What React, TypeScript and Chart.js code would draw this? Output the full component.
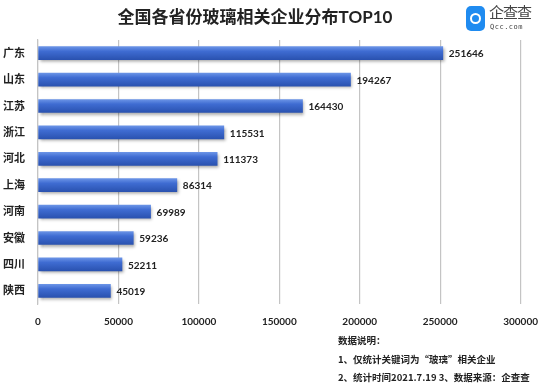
import React, { useEffect, useRef } from "react";
import { Chart, registerables } from "chart.js";

Chart.register(...registerables);

const categories = ["广东", "山东", "江苏", "浙江", "河北", "上海", "河南", "安徽", "四川", "陕西"];
const values = [251646, 194267, 164430, 115531, 111373, 86314, 69989, 59236, 52211, 45019];
const xTicks = [0, 50000, 100000, 150000, 200000, 250000, 300000];

const FONT = "'Lato', 'Noto Sans CJK SC', sans-serif";
const CJK = "'Noto Sans CJK SC', sans-serif";

const shadowPlugin = {
  id: "barShadow",
  beforeDatasetsDraw(chart: any) {
    const ctx = chart.ctx;
    ctx.save();
    ctx.shadowColor = "rgba(0,0,0,0.35)";
    ctx.shadowBlur = 3;
    ctx.shadowOffsetX = 1.5;
    ctx.shadowOffsetY = 2;
  },
  afterDatasetsDraw(chart: any) {
    chart.ctx.restore();
  },
};

const valueLabelPlugin = {
  id: "valueLabels",
  afterDraw(chart: any) {
    const ctx = chart.ctx;
    const meta = chart.getDatasetMeta(0);
    ctx.save();
    ctx.font = `bold 10px ${FONT}`;
    ctx.fillStyle = "#222";
    ctx.textAlign = "left";
    ctx.textBaseline = "middle";
    meta.data.forEach((bar: any, i: number) => {
      ctx.fillText(String(values[i]), bar.x + 6, bar.y + 1);
    });
    ctx.restore();
  },
};

export default function App() {
  const ref = useRef<HTMLCanvasElement>(null);
  useEffect(() => {
    if (!ref.current) return;
    const chart = new Chart(ref.current, {
      type: "bar",
      data: {
        labels: categories,
        datasets: [
          {
            data: values,
            barThickness: 13,
            backgroundColor: (c: any) => {
              const ch = c.chart;
              const ys = ch.scales?.y;
              if (!ys || !ch.chartArea) return "#3d69cf";
              const cy = ys.getPixelForValue(c.dataIndex);
              const g = ch.ctx.createLinearGradient(0, cy - 6.5, 0, cy + 6.5);
              g.addColorStop(0, "#6a93e6");
              g.addColorStop(0.35, "#3f6cd2");
              g.addColorStop(1, "#2a52b0");
              return g;
            },
            borderWidth: 0,
          },
        ],
      },
      options: {
        indexAxis: "y",
        animation: false,
        responsive: false,
        maintainAspectRatio: false,
        layout: { padding: { top: 40, right: 24, left: 0, bottom: 0 } },
        plugins: { legend: { display: false }, tooltip: { enabled: false }, title: { display: false } },
        scales: {
          x: {
            type: "linear",
            min: 0,
            max: 300000,
            afterFit: (s: any) => {
              s.height = 79;
            },
            grid: { display: true, color: "#c4c4c4", drawTicks: false, lineWidth: 1.2, drawOnChartArea: true },
            border: { display: false },
            ticks: {
              stepSize: 50000,
              padding: 12,
              color: "#222",
              font: { family: FONT, size: 10, weight: "bold" },
              maxRotation: 0,
              callback: (v: any) => (xTicks.includes(v) ? String(v) : ""),
            },
          },
          y: {
            afterFit: (s: any) => {
              s.width = 38;
            },
            grid: { display: false, drawTicks: false },
            border: { display: true, color: "#c4c4c4", width: 1.2 },
            ticks: {
              padding: 13,
              color: "#222",
              font: { family: FONT, size: 11, weight: "bold" },
            },
          },
        },
      },
      plugins: [shadowPlugin, valueLabelPlugin],
    } as any);
    return () => chart.destroy();
  }, []);

  const noteStyle: React.CSSProperties = {
    position: "absolute",
    left: 338,
    fontSize: 9.5,
    fontWeight: "bold",
    color: "#222",
    fontFamily: CJK,
    whiteSpace: "nowrap",
    lineHeight: "12px",
  };

  return (
    <div style={{ position: "fixed", left: 0, top: 0, width: 550, height: 383, background: "#fff", overflow: "hidden" }}>
      <canvas ref={ref} width={550} height={383} style={{ position: "absolute", left: 0, top: 0, width: 550, height: 383 }} />
      <div
        style={{
          position: "absolute",
          left: 0,
          width: 510,
          top: 6,
          textAlign: "center",
          fontSize: 17,
          fontWeight: "bold",
          color: "#222",
          fontFamily: FONT,
          lineHeight: "22px",
        }}
      >
        全国各省份玻璃相关企业分布TOP10
      </div>
      <div
        style={{
          position: "absolute",
          left: 466,
          top: 6,
          width: 19,
          height: 25,
          borderRadius: 5,
          background: "#1f8bf0",
          display: "flex",
          alignItems: "center",
          justifyContent: "center",
        }}
      >
        <div style={{ width: 11, height: 11, borderRadius: "50%", border: "2.5px solid #fff", boxSizing: "border-box" }} />
      </div>
      <div style={{ position: "absolute", left: 489, top: 3, fontSize: 15, color: "#444", fontFamily: CJK, lineHeight: "18px", letterSpacing: -1 }}>
        企查查
      </div>
      <div style={{ position: "absolute", left: 490, top: 22, fontSize: 7, color: "#444", fontFamily: "'DejaVu Sans Mono', monospace", lineHeight: "10px", letterSpacing: 0.5 }}>
        Qcc.com
      </div>
      <div style={{ ...noteStyle, top: 334 }}>数据说明：</div>
      <div style={{ ...noteStyle, top: 353 }}>1、仅统计关键词为“玻璃”相关企业</div>
      <div style={{ ...noteStyle, top: 371 }}>2、统计时间2021.7.19 3、数据来源：企查查</div>
    </div>
  );
}
